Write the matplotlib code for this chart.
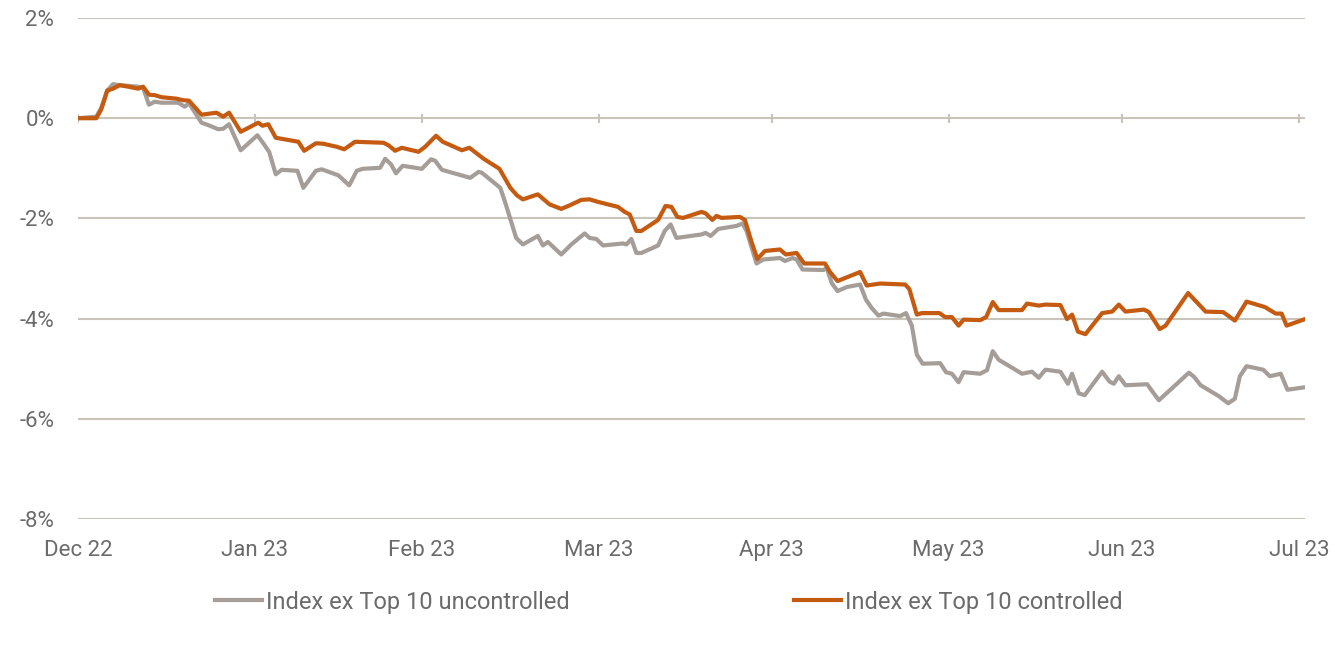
import matplotlib
matplotlib.use("Agg")
import matplotlib.pyplot as plt
import numpy as np

# ── DATA (trading-day index, % change) ─────────────────────────
ctrl_day = [0.0, 2.2, 2.8, 3.5, 4.2, 5.0, 6.0, 7.2, 7.8, 8.5, 9.2, 10.0, 11.8, 12.6, 13.3,
            14.8, 16.6, 17.4, 18.1, 19.5, 21.6, 22.1, 22.8, 23.7, 26.4, 27.1, 28.5, 29.4,
            31.0, 31.9, 33.2, 36.6, 37.2, 38.0, 38.8, 40.8, 41.6, 42.9, 43.7, 46.0, 46.9,
            48.6, 50.5, 51.8, 52.6, 53.3, 55.1, 56.5, 57.9, 58.9, 60.3, 61.3, 62.3, 64.7,
            65.5, 66.1, 66.9, 67.5, 69.5, 70.4, 71.1, 71.8, 72.5, 74.7, 75.2, 76.0, 76.5,
            77.1, 79.3, 79.9, 80.7, 81.4, 82.3, 84.1, 84.8, 86.1, 87.0, 89.5, 90.1, 91.0,
            93.7, 94.5, 96.1, 99.1, 99.6, 100.5, 101.1, 103.2, 103.9, 104.7, 105.5, 106.1,
            108.1, 108.8, 109.6, 110.3, 113.1, 113.7, 115.1, 115.9, 117.7, 118.5, 119.1,
            119.8, 120.7, 122.7, 123.9, 124.7, 125.5, 127.7, 128.3, 129.6, 130.3, 133.0,
            135.1, 137.2, 138.6, 140.0, 142.2, 143.5, 144.2, 144.8, 147.0]
ctrl_val = [0.00, 0.00, 0.18, 0.55, 0.59, 0.66, 0.63, 0.59, 0.63, 0.47, 0.46, 0.42, 0.39, 0.36, 0.35,
            0.07, 0.11, 0.03, 0.11, -0.27, -0.09, -0.15, -0.12, -0.39, -0.47, -0.65, -0.50, -0.51,
            -0.57, -0.62, -0.47, -0.49, -0.54, -0.65, -0.59, -0.67, -0.57, -0.35, -0.47, -0.64, -0.59,
            -0.81, -1.01, -1.39, -1.54, -1.62, -1.52, -1.72, -1.81, -1.74, -1.63, -1.62, -1.67, -1.77,
            -1.87, -1.92, -2.25, -2.25, -2.03, -1.75, -1.77, -1.97, -1.99, -1.87, -1.90, -2.03, -1.95,
            -1.99, -1.97, -2.03, -2.47, -2.81, -2.65, -2.62, -2.72, -2.69, -2.90, -2.90, -3.07, -3.25,
            -3.07, -3.34, -3.30, -3.32, -3.41, -3.92, -3.89, -3.89, -3.97, -3.97, -4.14, -4.02,
            -4.03, -3.97, -3.67, -3.83, -3.83, -3.70, -3.74, -3.72, -3.73, -4.01, -3.92,
            -4.26, -4.31, -3.89, -3.86, -3.72, -3.86, -3.82, -3.87, -4.21, -4.14, -3.49,
            -3.86, -3.87, -4.04, -3.66, -3.77, -3.90, -3.90, -4.14, -4.01]

unctrl_day = [0.0, 2.2, 2.8, 3.5, 4.2, 5.0, 7.2, 7.8, 8.5, 9.2, 10.0, 12.0, 12.8, 13.3,
              14.8, 15.8, 16.8, 17.4, 18.1, 19.5, 21.5, 22.2, 22.9, 23.7, 24.4, 26.3, 27.0,
              28.5, 29.2, 31.2, 32.5, 33.4, 34.1, 36.2, 36.8, 37.5, 38.1, 38.9, 41.2, 42.3,
              42.8, 43.6, 47.0, 48.0, 48.4, 50.6, 51.2, 52.5, 53.3, 55.1, 55.7, 56.3, 57.9,
              59.1, 60.7, 61.3, 62.1, 62.9, 65.3, 65.7, 66.3, 66.9, 67.5, 69.5, 70.3, 71.0,
              71.7, 74.7, 75.2, 75.8, 76.7, 78.9, 79.6, 80.1, 81.3, 82.1, 84.1, 84.7, 85.6,
              86.1, 86.8, 89.3, 89.7, 90.3, 91.0, 92.1, 93.7, 94.4, 95.1, 95.9, 96.5, 98.5,
              99.2, 99.9, 100.5, 101.2, 103.3, 104.0, 104.7, 105.5, 106.1, 108.1, 108.9,
              109.6, 110.3, 113.1, 114.3, 115.1, 115.9, 117.7, 118.6, 119.1, 119.9, 120.6,
              122.7, 123.6, 124.1, 124.7, 125.5, 128.1, 128.7, 129.5, 133.1, 133.7, 134.5,
              136.7, 137.8, 138.6, 139.2, 140.0, 142.0, 142.8, 144.1, 144.9, 147.0]
unctrl_val = [0.00, 0.03, 0.21, 0.55, 0.68, 0.66, 0.63, 0.61, 0.27, 0.33, 0.31, 0.31, 0.23, 0.30,
              -0.09, -0.15, -0.22, -0.21, -0.12, -0.64, -0.34, -0.50, -0.67, -1.12, -1.03, -1.05, -1.39,
              -1.05, -1.02, -1.14, -1.34, -1.05, -1.01, -0.99, -0.81, -0.92, -1.10, -0.95, -1.01, -0.82,
              -0.85, -1.03, -1.19, -1.07, -1.09, -1.39, -1.69, -2.39, -2.52, -2.35, -2.54, -2.47, -2.72,
              -2.52, -2.30, -2.39, -2.41, -2.54, -2.50, -2.52, -2.41, -2.69, -2.69, -2.54, -2.25, -2.12,
              -2.39, -2.32, -2.29, -2.35, -2.21, -2.15, -2.10, -2.25, -2.90, -2.82, -2.79, -2.85, -2.79,
              -2.82, -3.02, -3.03, -2.99, -3.29, -3.45, -3.37, -3.32, -3.62, -3.79, -3.94, -3.90, -3.95,
              -3.89, -4.14, -4.72, -4.90, -4.89, -5.07, -5.10, -5.27, -5.07, -5.10, -5.03,
              -4.65, -4.82, -5.10, -5.06, -5.18, -5.02, -5.06, -5.30, -5.10, -5.49, -5.53,
              -5.06, -5.26, -5.30, -5.15, -5.33, -5.31, -5.45, -5.63, -5.08, -5.16, -5.33,
              -5.55, -5.69, -5.60, -5.15, -4.95, -5.02, -5.15, -5.10, -5.42, -5.37]

month_labels = ['Dec 22', 'Jan 23', 'Feb 23', 'Mar 23', 'Apr 23', 'May 23', 'Jun 23', 'Jul 23']
month_pos = [0.0, 21.2, 41.2, 62.4, 83.1, 104.3, 125.1, 146.3]
y_ticks = [2, 0, -2, -4, -6, -8]

# ── STYLE ──────────────────────────────────────────────────────
plt.rcParams['font.family'] = ['Roboto', 'DejaVu Sans']
grey = '#A59D98'
orange = '#C55A11'
grid_c = '#C9C4B9'
text_c = '#6B6B6B'

fig = plt.figure(figsize=(13.35, 6.46), dpi=100)
ax = fig.add_axes([0.0584, 0.1966, 0.9191, 0.7755])

ax.plot(unctrl_day, unctrl_val, color=grey, lw=3.0, solid_joinstyle='round',
        label='Index ex Top 10 uncontrolled', zorder=3)
ax.plot(ctrl_day, ctrl_val, color=orange, lw=3.0, solid_joinstyle='round',
        label='Index ex Top 10 controlled', zorder=4)

ax.set_xlim(0, 147)
ax.set_ylim(-8, 2)
ax.set_yticks(y_ticks)
ax.set_yticklabels([f'{t}%' for t in y_ticks])
ax.set_xticks(month_pos)
ax.set_xticklabels(month_labels)
ax.tick_params(axis='both', length=0, labelsize=16, colors=text_c)
ax.tick_params(axis='y', pad=17)
ax.tick_params(axis='x', pad=15)
ax.grid(axis='y', color=grid_c, lw=1.5, zorder=1)
for s in ax.spines.values():
    s.set_visible(False)

# small month tick marks on the zero line
ax.vlines(month_pos, -0.09, 0.09, color=grid_c, lw=1.5, zorder=2)

fig.legend(loc='center', bbox_to_anchor=(0.501, 0.068), ncol=2, frameon=False,
           fontsize=17, labelcolor=text_c, handlelength=2.0, handletextpad=0.15,
           columnspacing=9.5)

fig.savefig('out.png', dpi=100, facecolor='white')
